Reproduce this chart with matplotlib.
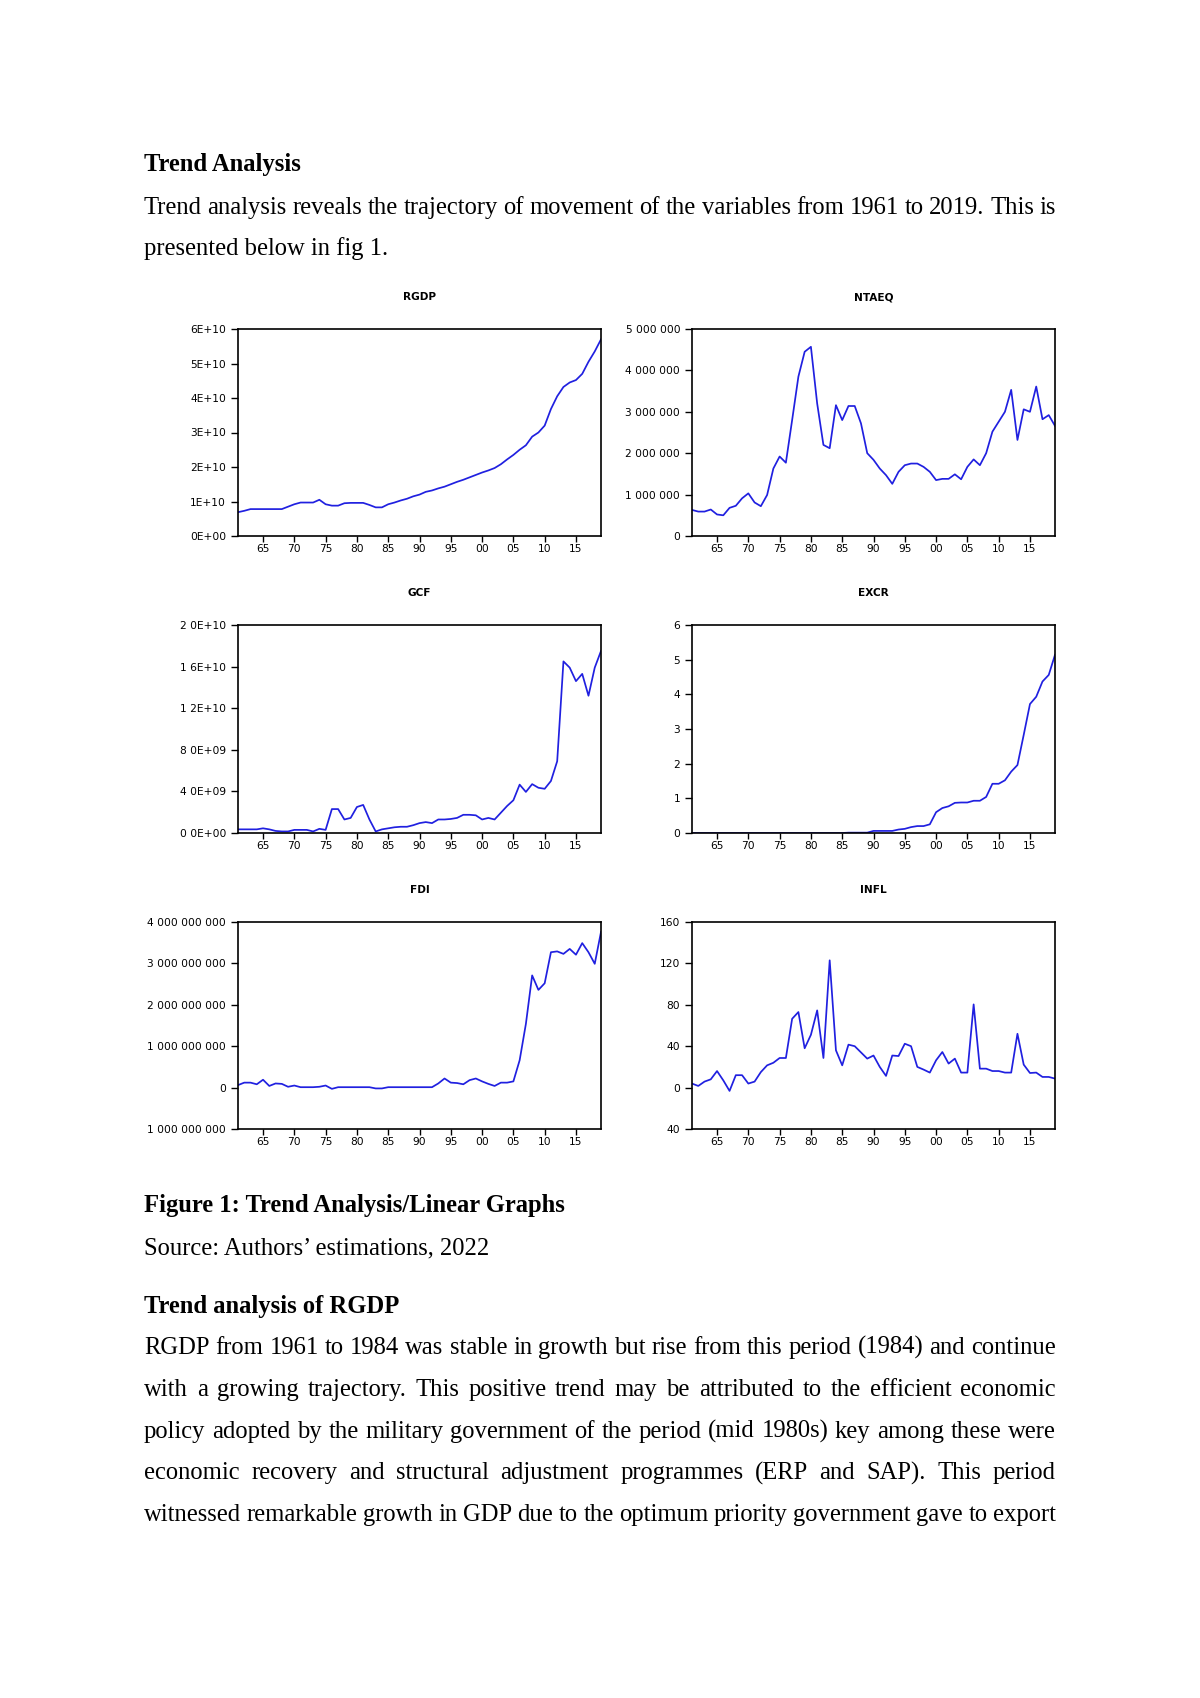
import numpy as np
import matplotlib
matplotlib.use("Agg")
import matplotlib.pyplot as plt

W, H = 1200, 1698
years = np.arange(1961, 2020)

# series, 1961..2019
rgdp_e10 = [0.69, 0.73, 0.78, 0.78, 0.78, 0.78, 0.78, 0.78, 0.85, 0.92,
            0.97, 0.97, 0.97, 1.05, 0.92, 0.88, 0.88, 0.95, 0.96, 0.96,
            0.96, 0.90, 0.83, 0.83, 0.92, 0.97, 1.03, 1.08, 1.15, 1.20,
            1.28, 1.32, 1.38, 1.43, 1.50, 1.57, 1.63, 1.70, 1.77, 1.84,
            1.90, 1.97, 2.08, 2.22, 2.35, 2.50, 2.63, 2.88, 3.00, 3.20,
            3.68, 4.05, 4.32, 4.45, 4.52, 4.70, 5.05, 5.35, 5.70]
ntaeq_m = [0.63, 0.59, 0.59, 0.64, 0.52, 0.50, 0.68, 0.73, 0.91, 1.03,
           0.81, 0.72, 0.99, 1.63, 1.92, 1.77, 2.80, 3.85, 4.45, 4.57,
           3.20, 2.20, 2.12, 3.16, 2.80, 3.14, 3.14, 2.72, 2.00, 1.84,
           1.63, 1.47, 1.26, 1.55, 1.71, 1.75, 1.75, 1.67, 1.55, 1.35,
           1.38, 1.38, 1.49, 1.37, 1.67, 1.85, 1.71, 2.00, 2.52, 2.76,
           3.00, 3.53, 2.32, 3.06, 3.00, 3.61, 2.82, 2.92, 2.66]
gcf_e9 = [0.35, 0.35, 0.35, 0.35, 0.45, 0.35, 0.20, 0.15, 0.15, 0.30,
          0.30, 0.30, 0.15, 0.40, 0.30, 2.30, 2.30, 1.30, 1.45, 2.50,
          2.70, 1.30, 0.15, 0.35, 0.45, 0.55, 0.60, 0.60, 0.75, 0.95,
          1.05, 0.95, 1.30, 1.30, 1.35, 1.45, 1.75, 1.75, 1.70, 1.30,
          1.45, 1.30, 1.95, 2.60, 3.15, 4.65, 3.95, 4.70, 4.35, 4.25,
          5.00, 6.90, 16.5, 15.9, 14.6, 15.3, 13.2, 15.9, 17.5]
excr = [0.00] * 25 + [0.01] * 4 + [
        0.06, 0.06, 0.06, 0.06, 0.10, 0.12, 0.17, 0.20, 0.20, 0.25, 0.60,
        0.72, 0.77, 0.87, 0.88, 0.88, 0.93, 0.93, 1.04, 1.42, 1.42,
        1.52, 1.77, 1.96, 2.83, 3.72, 3.93, 4.37, 4.56, 5.14]
fdi_e9 = [0.06, 0.12, 0.12, 0.08, 0.19, 0.04, 0.10, 0.09, 0.02, 0.05,
          0.01, 0.01, 0.01, 0.02, 0.05, -0.03, 0.01, 0.01, 0.01, 0.01,
          0.01, 0.01, -0.02, -0.02, 0.01, 0.01, 0.01, 0.01, 0.01, 0.01,
          0.01, 0.01, 0.10, 0.22, 0.12, 0.11, 0.08, 0.18, 0.22, 0.15,
          0.09, 0.04, 0.12, 0.12, 0.15, 0.66, 1.54, 2.71, 2.36, 2.52,
          3.27, 3.29, 3.23, 3.35, 3.21, 3.49, 3.27, 2.99, 3.76]
infl = [3.9, 1.6, 5.8, 8.0, 16.0, 7.0, -3.2, 12.0, 12.0, 3.9,
        5.8, 15.0, 21.5, 24.0, 28.6, 28.6, 66.5, 73.0, 38.0, 51.0,
        74.6, 28.6, 123.0, 36.0, 21.5, 41.5, 40.0, 34.0, 28.0, 31.0,
        20.0, 11.3, 31.0, 30.5, 42.4, 40.0, 20.0, 17.4, 14.5, 26.4,
        34.4, 23.2, 28.0, 14.5, 14.5, 80.4, 18.3, 18.3, 16.0, 16.0,
        14.5, 14.5, 52.0, 22.2, 14.1, 14.5, 10.3, 10.3, 8.7]

year_ticks = np.arange(1965, 2020, 5)


def lab_exp(v):
    return f"{v:.0E}"


def lab_exp1(v):
    return f"{v:.1E}".replace(".", " ")


def lab_space(v):
    return f"{abs(int(round(v))):,}".replace(",", " ")


panels = [
    ("RGDP", np.array(rgdp_e10) * 1e10, np.arange(0, 7e10, 1e10), lab_exp, 0, 0),
    ("NTAEQ", np.array(ntaeq_m) * 1e6, np.arange(0, 6e6, 1e6), lab_space, 1, 0),
    ("GCF", np.array(gcf_e9) * 1e9, np.arange(0, 2.4e10, 4e9), lab_exp1, 0, 1),
    ("EXCR", np.array(excr), np.arange(0, 7, 1), lab_space, 1, 1),
    ("FDI", np.array(fdi_e9) * 1e9, np.arange(-1e9, 5e9, 1e9), lab_space, 0, 2),
    ("INFL", np.array(infl), np.arange(-40, 200, 40), lab_space, 1, 2),
]

col_x = [(238, 601), (692, 1055)]
row_y = [(329, 536), (625, 833), (922, 1129)]

fig = plt.figure(figsize=(W / 100, H / 100), dpi=100)
fig.patch.set_facecolor("white")

for name, vals, yt, labfn, c, r in panels:
    x0, x1 = col_x[c]
    y0, y1 = row_y[r]
    ax = fig.add_axes([x0 / W, 1 - y1 / H, (x1 - x0) / W, (y1 - y0) / H])
    ax.plot(years, vals, color="#2020e0", lw=1.25)
    ax.set_xlim(1961, 2019)
    ax.set_ylim(yt[0], yt[-1])
    ax.set_xticks(year_ticks, [f"{y % 100:02d}" for y in year_ticks])
    ax.set_yticks(yt, [labfn(v) for v in yt])
    ax.tick_params(axis="both", direction="out", labelsize=7.7, width=1.0,
                   colors="black")
    ax.tick_params(axis="y", length=5, pad=3.5)
    ax.tick_params(axis="x", length=4, pad=2)
    for s in ax.spines.values():
        s.set_linewidth(1.2)
    ax.text(0.5, 1 + 32 / (y1 - y0), name, transform=ax.transAxes,
            ha="center", va="center", fontsize=7.6, fontweight="bold")

# page text
rend = fig.canvas.get_renderer()
LEFT, RIGHT = 144, 1056
serif = "Liberation Serif"


def put(s, y, fs, bold=False):
    return fig.text(LEFT / W, 1 - y / H, s, fontsize=fs, family=serif,
                    fontweight="bold" if bold else "normal", va="baseline")


def justify(s, y, fs):
    words = s.split()
    ts = [fig.text(0, 0, w, fontsize=fs, family=serif, va="baseline")
          for w in words]
    ws = [t.get_window_extent(rend).width for t in ts]
    gap = (RIGHT - LEFT - sum(ws)) / (len(words) - 1)
    x = LEFT
    for t, w in zip(ts, ws):
        t.set_position((x / W, 1 - y / H))
        x += w + gap


probe = fig.text(0, 0, "policy adopted by the military government of the period "
                 "(mid 1980s) key among these were", fontsize=10, family=serif)
fs = 10 * (RIGHT - LEFT) * 0.99 / probe.get_window_extent(rend).width
probe.remove()

put("Trend Analysis", 171, fs, bold=True)
justify("Trend analysis reveals the trajectory of movement of the variables "
        "from 1961 to 2019. This is", 214, fs)
put("presented below in fig 1.", 255, fs)

put("Figure 1: Trend Analysis/Linear Graphs", 1212, fs, bold=True)
put("Source: Authors\u2019 estimations, 2022", 1254, fs)
put("Trend analysis of RGDP", 1313, fs, bold=True)

para = [
    "RGDP from 1961 to 1984 was stable in growth but rise from this period (1984) and continue",
    "with a growing trajectory. This positive trend may be attributed to the efficient economic",
    "policy adopted by the military government of the period (mid 1980s) key among these were",
    "economic recovery and structural adjustment programmes (ERP and SAP). This period",
    "witnessed remarkable growth in GDP due to the optimum priority government gave to export",
]
for i, line in enumerate(para):
    justify(line, 1354 + i * 41.8, fs)

fig.savefig("out.png", dpi=100, facecolor="white")
